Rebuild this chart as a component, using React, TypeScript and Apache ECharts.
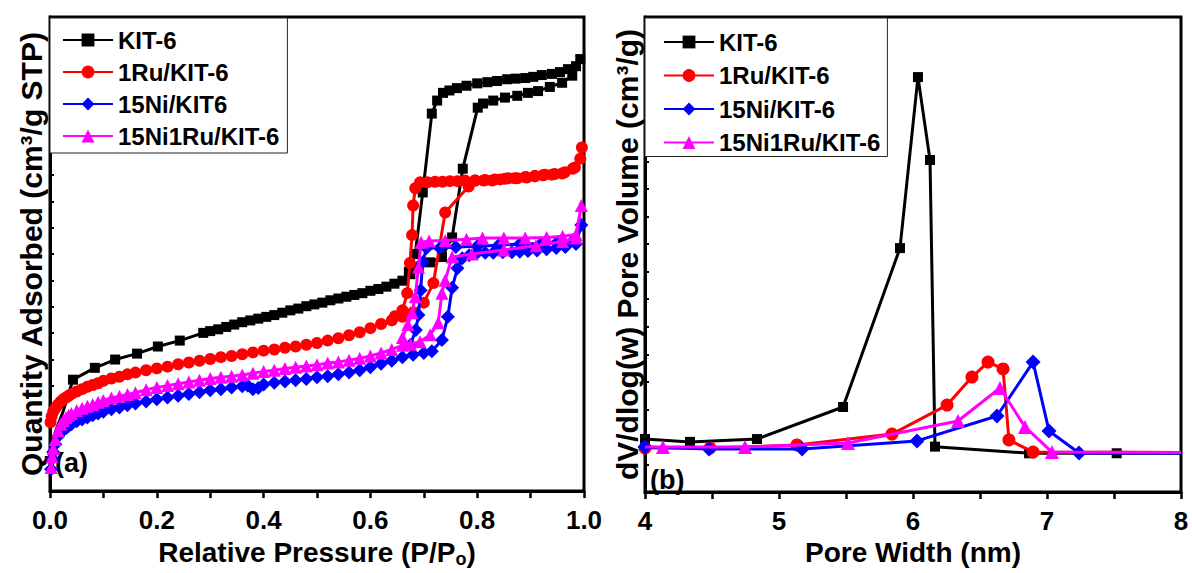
import React, { useEffect, useRef } from "react";
import * as echarts from "echarts";

const FONT = "'Liberation Sans', Arial, Helvetica, sans-serif";

// ---------- Panel (a): N2 isotherms (P/Po, quantity adsorbed) ----------
const isoNames = ["KIT-6", "1Ru/KIT-6", "15Ni/KIT6", "15Ni1Ru/KIT-6"];

const isoKIT6: any[] = [
  { value: [0.003, 60], symbol: "none" }, { value: [0.01, 100], symbol: "none" }, { value: [0.024, 133], symbol: "none" },
  [0.043, 188], [0.084, 208], [0.122, 222], [0.163, 232], [0.202, 244], [0.243, 254], [0.287, 267],
  [0.30, 270], [0.315, 273], [0.33, 277], [0.345, 281], [0.36, 285], [0.375, 288], [0.39, 291], [0.405, 294],
  [0.42, 297], [0.435, 301], [0.45, 305], [0.465, 308], [0.48, 312], [0.495, 315], [0.51, 318], [0.525, 322],
  [0.54, 325], [0.555, 328], [0.57, 331], [0.585, 334], [0.60, 338], [0.615, 341], [0.63, 345], [0.645, 350],
  [0.66, 355], [0.675, 366], [0.69, 377], [0.712, 386], [0.734, 395], [0.753, 428], [0.773, 544], [0.801, 647],
  [0.811, 654], [0.83, 659], [0.852, 664], [0.875, 667], [0.895, 672], [0.914, 675], [0.936, 682], [0.959, 689],
  [0.978, 701], [0.993, 729],
  [0.985, 717], [0.97, 712], [0.955, 707], [0.94, 704], [0.921, 702], [0.905, 699], [0.89, 697], [0.872, 696],
  [0.856, 695], [0.837, 692], [0.819, 690], [0.8, 688], [0.78, 684], [0.762, 680], [0.748, 676], [0.736, 672],
  [0.725, 659], [0.715, 637], [0.698, 504], [0.684, 400], [0.672, 370],
];

const isoRu: any[] = [
  [0.001, 116], [0.003, 126], [0.006, 134], [0.01, 140], [0.015, 146], [0.02, 151], [0.025, 155], [0.03, 158],
  [0.035, 161], [0.04, 164], [0.05, 168], [0.06, 172], [0.07, 176], [0.08, 179], [0.09, 182], [0.10, 186],
  [0.115, 190], [0.13, 193], [0.145, 197], [0.16, 200], [0.18, 204], [0.20, 207], [0.22, 210], [0.24, 214],
  [0.26, 217], [0.28, 220], [0.30, 223], [0.32, 226], [0.34, 228], [0.36, 231], [0.38, 234], [0.40, 237],
  [0.42, 239], [0.44, 242], [0.46, 244], [0.48, 247], [0.50, 250], [0.52, 254], [0.54, 258], [0.56, 263],
  [0.58, 268], [0.60, 275], [0.62, 282], [0.64, 288], [0.66, 294], [0.68, 302], [0.70, 318], [0.718, 351],
  [0.74, 470], [0.784, 514], [0.796, 524], [0.812, 524], [0.828, 524], [0.843, 526], [0.858, 528], [0.875, 528],
  [0.893, 529], [0.908, 531], [0.923, 533], [0.94, 534], [0.959, 536], [0.979, 544], [0.993, 561], [0.996, 580],
  [0.983, 546], [0.964, 538], [0.945, 535], [0.927, 534], [0.908, 532], [0.89, 530], [0.87, 528], [0.852, 527],
  [0.833, 526], [0.815, 525], [0.796, 524], [0.777, 524], [0.763, 523], [0.749, 523], [0.735, 522], [0.721, 522],
  [0.707, 521], [0.693, 521], [0.684, 511], [0.68, 482], [0.678, 432], [0.674, 385], [0.669, 334], [0.66, 305],
  [0.646, 295],
];

const isoNi: any[] = [
  [0.002, 37], [0.004, 55], [0.006, 66], [0.01, 79], [0.015, 92], [0.02, 99], [0.025, 103], [0.03, 106],
  [0.035, 110], [0.04, 113], [0.05, 118], [0.06, 121], [0.07, 124], [0.08, 128], [0.09, 131], [0.10, 134],
  [0.115, 138], [0.13, 141], [0.145, 145], [0.16, 148], [0.18, 151], [0.20, 155], [0.22, 158], [0.24, 161],
  [0.26, 164], [0.28, 167], [0.30, 170], [0.32, 172], [0.34, 175], [0.36, 177], [0.37, 178], [0.38, 172],
  [0.39, 174], [0.40, 180], [0.42, 183], [0.44, 185], [0.46, 187], [0.48, 189], [0.50, 192], [0.52, 194],
  [0.54, 197], [0.56, 200], [0.58, 204], [0.60, 209], [0.62, 215], [0.64, 220], [0.66, 226], [0.68, 230],
  [0.70, 233], [0.715, 236], [0.734, 255], [0.745, 294], [0.753, 343], [0.763, 376], [0.772, 393], [0.785, 398],
  [0.80, 402], [0.815, 402], [0.83, 402], [0.848, 403], [0.865, 403], [0.88, 404], [0.895, 405], [0.912, 406],
  [0.93, 408], [0.948, 410], [0.965, 412], [0.985, 417], [0.995, 449],
  [0.98, 423], [0.95, 420], [0.92, 418], [0.88, 417], [0.84, 415], [0.80, 413], [0.76, 412], [0.73, 410],
  [0.705, 410], [0.698, 386], [0.694, 339], [0.69, 297], [0.685, 272], [0.675, 247],
];

const isoNiRu: any[] = [
  [0.002, 40], [0.004, 58], [0.006, 72], [0.01, 87], [0.015, 102], [0.02, 113], [0.025, 119], [0.03, 124],
  [0.035, 128], [0.04, 131], [0.05, 136], [0.06, 140], [0.07, 143], [0.08, 146], [0.09, 150], [0.10, 153],
  [0.115, 157], [0.13, 160], [0.145, 163], [0.16, 166], [0.18, 171], [0.20, 175], [0.22, 178], [0.24, 181],
  [0.26, 184], [0.28, 187], [0.30, 190], [0.32, 192], [0.34, 194], [0.36, 196], [0.38, 199], [0.40, 202],
  [0.42, 204], [0.44, 207], [0.46, 209], [0.48, 211], [0.50, 213], [0.52, 216], [0.54, 218], [0.56, 221],
  [0.58, 224], [0.60, 228], [0.62, 233], [0.64, 239], [0.66, 246], [0.675, 248], [0.693, 252], [0.712, 264],
  [0.727, 284], [0.734, 334], [0.74, 356], [0.753, 395], [0.79, 400], [0.85, 407], [0.91, 414], [0.96, 421],
  [0.985, 427], [0.995, 482],
  [0.985, 433], [0.96, 430], [0.93, 428], [0.89, 427], [0.85, 427], [0.81, 427], [0.78, 425], [0.74, 423],
  [0.71, 422], [0.695, 420], [0.69, 378], [0.684, 328], [0.678, 301], [0.67, 281], [0.66, 259],
];

// ---------- Panel (b): pore size distribution (nm, dV/dlog(w)) ----------
const psdNames = ["KIT-6", "1Ru/KIT-6", "15Ni/KIT-6", "15Ni1Ru/KIT-6"];

const psdKIT6: any[] = [
  [4.0, 0.223], [4.336, 0.211], [4.836, 0.223], [5.478, 0.358], [5.903, 1.027], [6.037, 1.747],
  [6.127, 1.398], [6.164, 0.191], [6.866, 0.163], [7.52, 0.163], { value: [8.0, 0.163], symbol: "none" },
];
const psdRu: any[] = [
  [4.0, 0.185], [4.485, 0.185], [5.134, 0.198], [5.843, 0.244], [6.254, 0.366], [6.44, 0.484],
  [6.56, 0.547], [6.672, 0.518], [6.716, 0.219], [6.896, 0.168], { value: [8.0, 0.166], symbol: "none" },
];
const psdNi: any[] = [
  [4.0, 0.189], [4.478, 0.181], [5.172, 0.181], [6.03, 0.215], [6.627, 0.32], [6.896, 0.547],
  [7.015, 0.257], [7.239, 0.164], { value: [8.0, 0.164], symbol: "none" },
];
const psdNiRu: any[] = [
  { value: [4.0, 0.189], symbol: "none" }, [4.134, 0.189], [4.746, 0.189], [5.515, 0.206], [6.336, 0.299],
  [6.649, 0.438], [6.836, 0.274], [7.037, 0.168], { value: [8.0, 0.166], symbol: "none" },
];

const colors = ["#000000", "#ff0000", "#0000ff", "#ff00ff"];
const symbols = ["rect", "circle", "diamond", "triangle"];
const isoSizes = [10, 12, 14, 13];
const psdSizes = [10, 13, 15, 14];

const isoData = [isoKIT6, isoRu, isoNi, isoNiRu];
const psdData = [psdKIT6, psdRu, psdNi, psdNiRu];

const xTicks0 = [0, 0.2, 0.4, 0.6, 0.8, 1.0];
const xTicks1 = [4, 5, 6, 7, 8];

function buildOption() {
  const bold = { fontFamily: FONT, fontWeight: "bold" as const, color: "#000" };
  const axisLine = { show: true, lineStyle: { color: "#000", width: 3 } };

  const xAxisCommon = (gridIndex: number, min: number, max: number, interval: number, name: string, fmt: (v: number) => string) => ({
    type: "value",
    gridIndex,
    min,
    max,
    interval,
    name,
    nameLocation: "middle",
    nameGap: 41,
    nameTextStyle: {
      ...bold,
      fontSize: 28,
      rich: {
        sub: { ...bold, fontSize: 18, padding: [14, 0, 0, 0] },
      },
    },
    axisLine,
    axisTick: { show: true, inside: false, length: 7, lineStyle: { color: "#000", width: 2.5 } },
    minorTick: { show: true, splitNumber: 2, length: 7, lineStyle: { color: "#000", width: 2.5 } },
    axisLabel: { ...bold, fontSize: 26, margin: 16, formatter: fmt },
    splitLine: { show: false },
  });

  const yAxisCommon = (gridIndex: number, max: number, interval: number, name: string, gap: number) => ({
    type: "value",
    gridIndex,
    min: 0,
    max,
    interval,
    name,
    nameLocation: "middle",
    nameGap: gap,
    nameTextStyle: { ...bold, fontSize: 30 },
    axisLine,
    axisTick: { show: true, inside: true, length: 4, lineStyle: { color: "#000", width: 2 } },
    axisLabel: { show: false },
    splitLine: { show: false },
  });

  const legendCommon = (left: number, names: string[], padding: number[], gap: number) => ({
    data: names,
    orient: "vertical",
    left,
    top: 18,
    padding,
    itemGap: gap,
    itemWidth: 50,
    itemHeight: 16,
    backgroundColor: "#ffffff",
    borderColor: "#222",
    borderWidth: 1,
    textStyle: { ...bold, fontSize: 24, lineHeight: 24 },
  });

  const series: any[] = [];
  isoData.forEach((d, i) => {
    series.push({
      type: "line",
      name: isoNames[i],
      xAxisIndex: 0,
      yAxisIndex: 0,
      data: d,
      symbol: symbols[i],
      symbolSize: isoSizes[i],
      lineStyle: { color: colors[i], width: 3 },
      itemStyle: { color: colors[i] },
      z: 2 + i,
    });
  });
  psdData.forEach((d, i) => {
    series.push({
      type: "line",
      name: psdNames[i],
      xAxisIndex: 1,
      yAxisIndex: 1,
      data: d,
      symbol: symbols[i],
      symbolSize: psdSizes[i],
      lineStyle: { color: colors[i], width: 3 },
      itemStyle: { color: colors[i] },
      z: 2 + i,
    });
  });

  return {
    animation: false,
    backgroundColor: "#ffffff",
    grid: [
      { left: 50, top: 17, width: 534, height: 475, show: true, borderColor: "#000", borderWidth: 3, backgroundColor: "transparent" },
      { left: 645, top: 17, width: 536, height: 475, show: true, borderColor: "#000", borderWidth: 3, backgroundColor: "transparent" },
    ],
    xAxis: [
      xAxisCommon(0, 0, 1, 0.2, "Relative Pressure (P/P{sub|o})", (v: number) => (xTicks0.indexOf(Math.round(v * 10) / 10) >= 0 ? v.toFixed(1) : "")),
      xAxisCommon(1, 4, 8, 1, "Pore Width (nm)", (v: number) => (xTicks1.indexOf(v) >= 0 ? String(v) : "")),
    ],
    yAxis: [
      yAxisCommon(0, 800, 800 / 18, "Quantity Adsorbed (cm³/g STP)", 4),
      yAxisCommon(1, 2.0, 0.116, "dV/dlog(w) Pore Volume (cm³/g)", 3),
    ],
    legend: [
      legendCommon(50, isoNames, [10, 8, 5, 12], 8),
      legendCommon(645, psdNames, [12, 7, 2, 18], 9.5),
    ],
    graphic: [
      { type: "text", left: 55, top: 449, style: { text: "(a)", fontSize: 27, fontWeight: "bold", fontFamily: FONT, fill: "#000" } },
      { type: "text", left: 650, top: 466, style: { text: "(b)", fontSize: 27, fontWeight: "bold", fontFamily: FONT, fill: "#000" } },
    ],
    series,
  };
}

export default function App() {
  const ref = useRef<HTMLDivElement | null>(null);
  useEffect(() => {
    if (!ref.current) return;
    const chart = echarts.init(ref.current, undefined, { renderer: "svg" });
    chart.setOption(buildOption() as any);
    return () => chart.dispose();
  }, []);
  return (
    <div
      ref={ref}
      style={{ position: "absolute", left: 0, top: 0, width: 1192, height: 573, background: "#fff" }}
    />
  );
}
